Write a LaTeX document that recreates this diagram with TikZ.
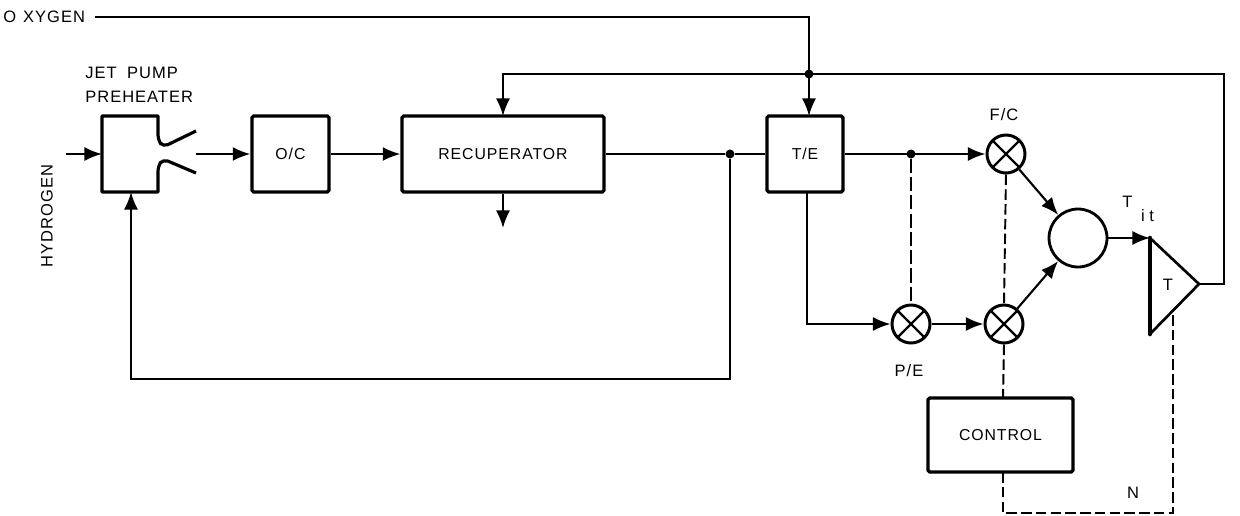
\documentclass[tikz,border=0pt]{standalone}
\usepackage{fontspec}
\setmainfont{Liberation Sans}
\usetikzlibrary{arrows.meta}
\newfontfamily\labelfont[LetterSpace=6]{Liberation Sans}
\tikzset{
    unitbox/.style={draw,line width=1.9pt,rounded corners=1pt,inner sep=0pt,font=\labelfont\fontsize{9}{11}\selectfont},
    mixer/.style={circle,draw,line width=1.7pt,minimum size=0.76cm,inner sep=0pt,
        path picture={\draw[line width=1.3pt] (path picture bounding box.north west) -- (path picture bounding box.south east);
        \draw[line width=1.3pt] (path picture bounding box.north east) -- (path picture bounding box.south west);}},
    joint/.style={circle,fill,inner sep=0pt,minimum size=0.18cm},
    txt/.style={font=\labelfont\fontsize{9.4}{14}\selectfont,inner sep=0pt},
    flow/.style={line width=1.2pt,->},
    link/.style={line width=1.1pt,dash pattern=on 6pt off 2.4pt}
}
\begin{document}
\begin{tikzpicture}[x=0.02cm,y=-0.02cm,>={Latex[length=10pt,width=8pt]}]
        \useasboundingbox (0,0) rectangle (1240,515);
        % blocks
        \node[unitbox,minimum width=1.54cm,minimum height=1.52cm] (oc) at (290.5,154) {O/C};
        \node[unitbox,minimum width=4.04cm,minimum height=1.52cm] (recup) at (503,154) {RECUPERATOR};
        \node[unitbox,minimum width=1.52cm,minimum height=1.52cm] (te) at (805,154) {T/E};
        \node[unitbox,minimum width=2.9cm,minimum height=1.48cm] (control) at (1000.5,435) {CONTROL};
        \foreach \name/\px/\py in {fc/1006/154, pe/911/324, mix/1004/324} {
            \node[mixer] (\name) at (\px,\py) {};
        }
        \node[circle,draw,line width=1.6pt,minimum size=1.16cm,inner sep=0pt] (burner) at (1078,238) {};
        % jet pump
        \draw[line width=1.8pt,line join=round] (196,131) [rounded corners=3pt] -- (163,147) -- (158,140) [sharp corners] -- (158,116) -- (102,116) -- (102,192) -- (158,192) [rounded corners=3pt] -- (158,166) -- (163,159) [sharp corners] -- (196,173);
        \coordinate (pumpin) at (102,154);
        \coordinate (pumpout) at (196,154);
        \coordinate (pumpbot) at (131,192);
        \coordinate (hin) at (66,154);
        % turbine
        \coordinate (ta) at (1150,238);
        \coordinate (tb) at (1150,334);
        \coordinate (tc) at (1199,284);
        \draw[line width=1.5pt,line join=round] (ta) -- (tc) -- (tb);
        \draw[line width=2.6pt,line cap=round] (ta) -- (tb);
        \node[txt] (tlabel) at (1168,285) {T};
        % free ends
        \coordinate (oxy) at (95,17);
        \coordinate (oxyturn) at (809,17);
        \coordinate (tein) at (809,116);
        \coordinate (recupin) at (503,116);
        \coordinate (recupout) at (503,228);
        \coordinate (fbright) at (1224,284);
        \coordinate (fbtop) at (1224,74);
        \coordinate (fbleft) at (503,74);
        \coordinate (tebot) at (807,192);
        \coordinate (tedown) at (807,324);
        \coordinate (loopdown) at (730,379);
        \coordinate (loopleft) at (131,379);
        \coordinate (ctrlout) at (1003,472);
        \coordinate (ctrlcorner) at (1003,513);
        \coordinate (tcorner) at (1173,513);
        \coordinate (tsense) at (1173,310);
        \coordinate (ctrlin) at (1003,398);
        \node[joint] (jtop) at (809,74) {};
        \node[joint] (jrec) at (730,154) {};
        \node[joint] (jte) at (911,154) {};
        % flow lines
        \draw[flow] (hin) -- (pumpin);
        \draw[flow] (pumpout) -- (oc.west);
        \draw[flow] (oc.east) -- (recup.west);
        \draw[line width=1.2pt] (recup.east) -- (jrec) -- (te.west);
        \draw[flow] (recup.south -| recupout) -- (recupout);
        \draw[flow] (jrec) -- (loopdown) -- (loopleft) -- (pumpbot);
        \draw[flow] (oxy) -- (oxyturn) -- (tein);
        \draw[flow] (tc) -- (fbright) -- (fbtop) -- (fbleft) -- (recupin);
        \draw[flow] (te.east) -- (fc.west);
        \draw[flow] (tebot) -- (tedown) -- (pe.west);
        \draw[flow] (pe.east) -- (mix.west);
        \draw[flow] (fc) -- (burner);
        \draw[flow] (mix) -- (burner);
        \draw[flow] (burner.east) -- (ta);
        % control lines
        \draw[link,dash pattern=on 8pt off 2.4pt] (jte) -- (pe.north);
        \draw[link] (fc.south) -- (mix.north);
        \draw[link] (mix.south) -- (ctrlin);
        \draw[link] (ctrlout) -- (ctrlcorner) -- (tcorner) -- (tsense);
        % labels
        \node[txt,anchor=west] (oxylabel) at (3,17) {O\kern4ptXYGEN};
        \node[txt,rotate=90] (hydlabel) at (47,216) {HYDROGEN};
        \node[txt,anchor=west,align=left] (pumplabel) at (85,85) {JET\kern6pt PUMP\\PREHEATER};
        \node[txt] (fclabel) at (1004,115) {F/C};
        \node[txt] (pelabel) at (909,371) {P/E};
        \node[txt,anchor=west] (tit) at (1122,209) {T\kern5pt\raisebox{-8pt}{i\kern2.5pt t}};
        \node[txt] (nlabel) at (1133,493) {N};
    \end{tikzpicture}
\end{document}
